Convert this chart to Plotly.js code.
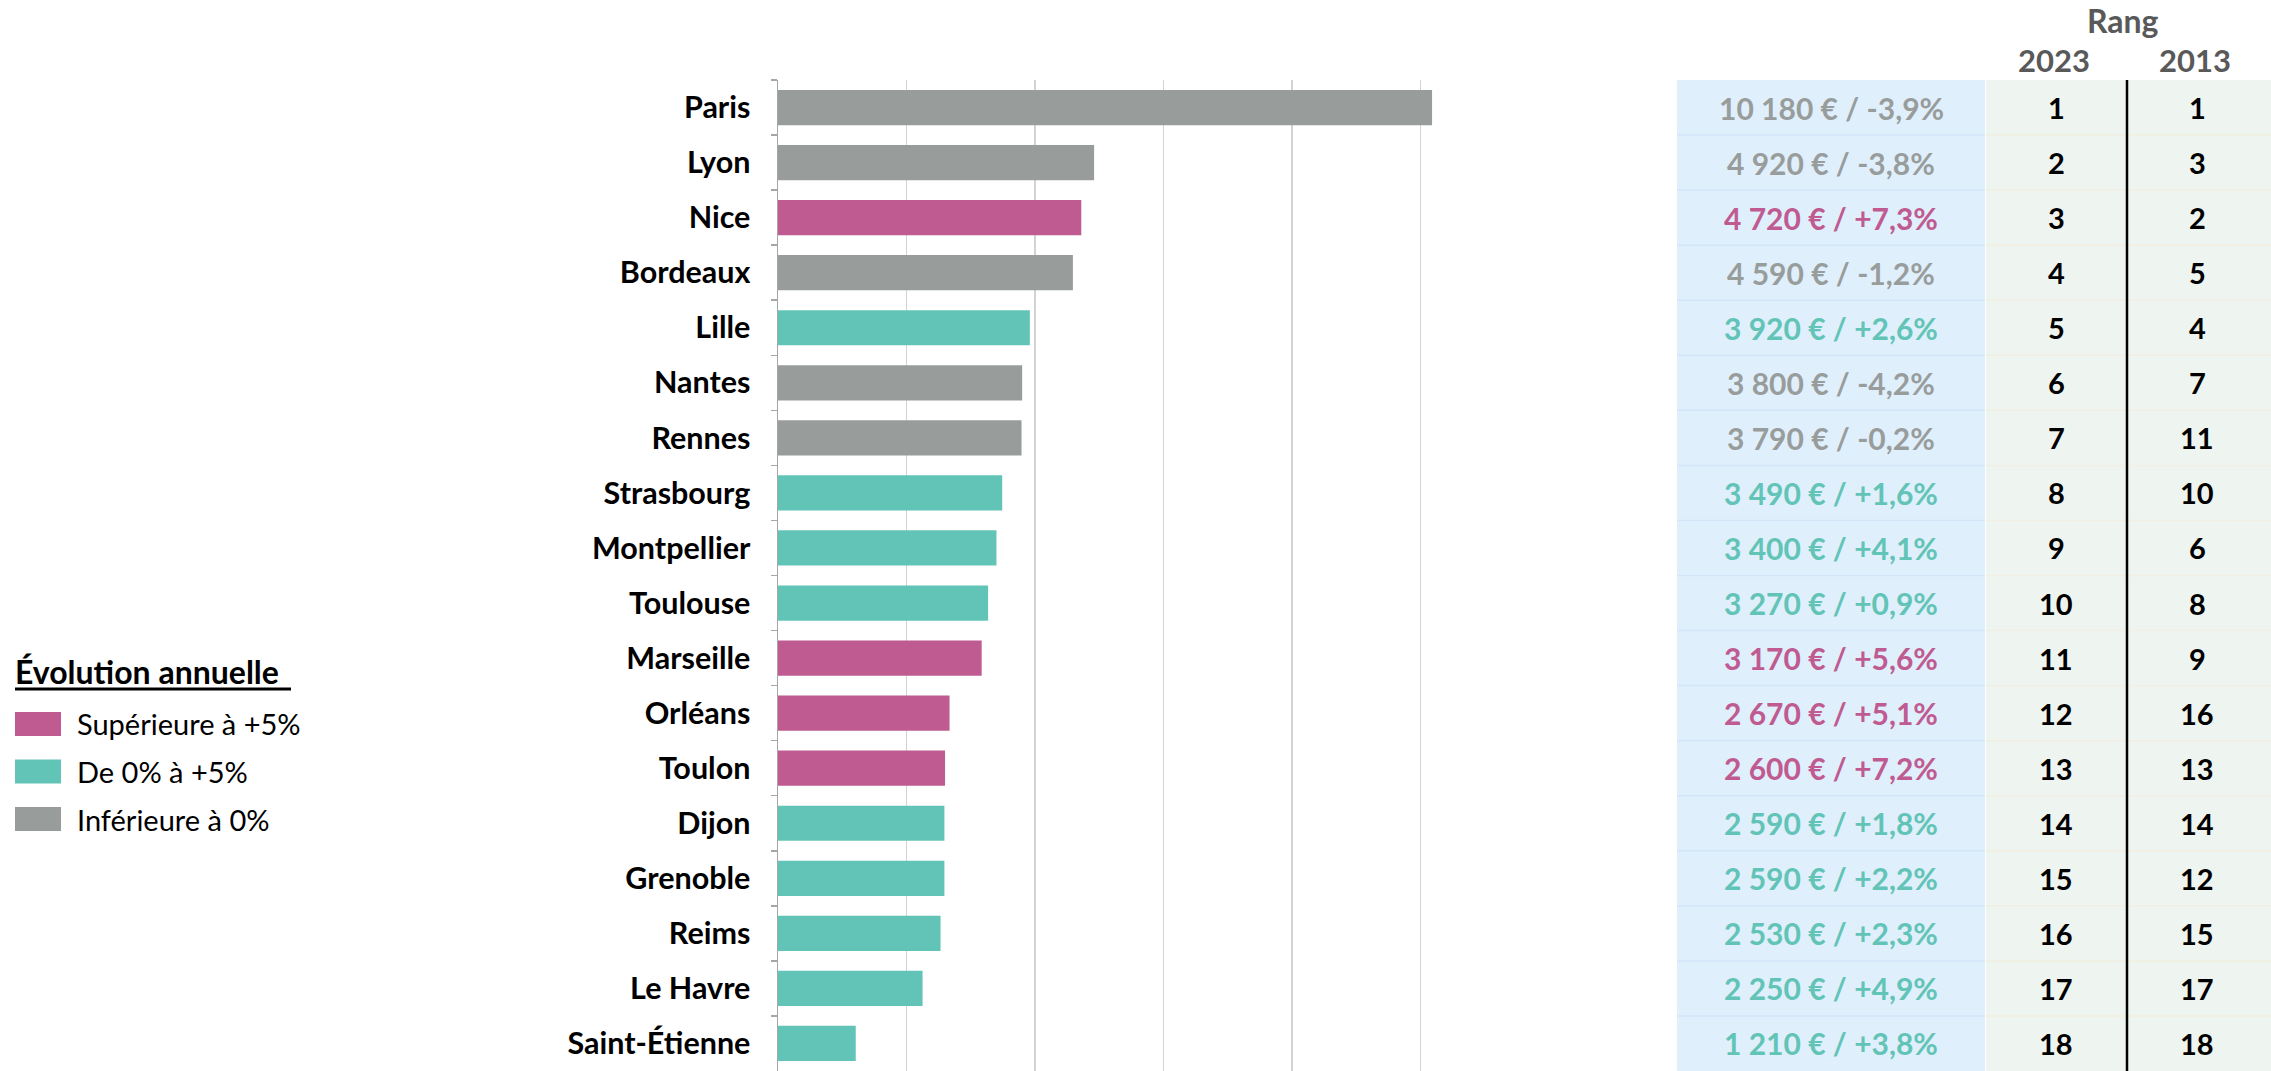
<!DOCTYPE html>
<html><head><meta charset="utf-8">
<script src="https://cdn.plot.ly/plotly-3.0.1.min.js"></script>
<style>html,body{margin:0;padding:0;background:#fff}#chart{width:2271px;height:1071px}</style>
</head><body><div id="chart"></div>
<script>
const cities = ["Paris","Lyon","Nice","Bordeaux","Lille","Nantes","Rennes","Strasbourg","Montpellier","Toulouse","Marseille","Orléans","Toulon","Dijon","Grenoble","Reims","Le Havre","Saint-Étienne"];
const prices = [10180,4920,4720,4590,3920,3800,3790,3490,3400,3270,3170,2670,2600,2590,2590,2530,2250,1210];
const changes = [-3.9,-3.8,7.3,-1.2,2.6,-4.2,-0.2,1.6,4.1,0.9,5.6,5.1,7.2,1.8,2.2,2.3,4.9,3.8];
const rank2023 = [1,2,3,4,5,6,7,8,9,10,11,12,13,14,15,16,17,18];
const rank2013 = [1,3,2,5,4,7,11,10,6,8,9,16,13,14,12,15,17,18];
const legendTitle = "Évolution annuelle";
const legendLabels = ["Supérieure à +5%","De 0% à +5%","Inférieure à 0%"];
const rankHeader = "Rang";
const yearHeaders = ["2023","2013"];

const PINK = "#bf5b91", TEAL = "#62c4b6", GRAY = "#989d9c";
const legendColors = [PINK, TEAL, GRAY];
function colorFor(c){ return c > 5 ? PINK : (c >= 0 ? TEAL : GRAY); }
function fmtPrice(v){ return String(v).replace(/\B(?=(\d{3})+(?!\d))/g, " ") + " €"; }
function fmtChange(c){ return (c >= 0 ? "+" : "-") + Math.abs(c).toFixed(1).replace(".", ",") + "%"; }

const W = 2271, H = 1071, T = 80;
const px = x => x / W;
const py = y => (H - y) / (H - T);
const FONT = "Lato, 'Open Sans', sans-serif";

const barColors = changes.map(colorFor);

const trace = {
  type: "bar", orientation: "h",
  y: cities, x: prices,
  marker: {color: barColors},
  width: 0.64, hoverinfo: "skip", showlegend: false
};

const shapes = [];
const annotations = [];
// table backgrounds
shapes.push({type:"rect", xref:"paper", yref:"paper", x0:px(1677), x1:px(1985), y0:0, y1:1, fillcolor:"#e0effc", line:{width:0}, layer:"below"});
shapes.push({type:"rect", xref:"paper", yref:"paper", x0:px(1986), x1:1, y0:0, y1:1, fillcolor:"#eef4f0", line:{width:0}, layer:"below"});
// row separators
for (let i = 0; i < cities.length - 1; i++) {
  shapes.push({type:"line", xref:"paper", yref:"y", x0:px(1677), x1:px(1985), y0:i+0.5, y1:i+0.5, line:{color:"#d3e6f8", width:1.5}});
  shapes.push({type:"line", xref:"paper", yref:"y", x0:px(1986), x1:1, y0:i+0.5, y1:i+0.5, line:{color:"#f2efe2", width:1.5}});
}
// vertical black divider
shapes.push({type:"line", xref:"paper", yref:"paper", x0:px(2127), x1:px(2127), y0:0, y1:1, line:{color:"#000", width:2.5}});

// table texts
cities.forEach((c, i) => {
  annotations.push({xref:"paper", yref:"y", x:px(1831), y:c, text:fmtPrice(prices[i]) + " / " + fmtChange(changes[i]),
    showarrow:false, xanchor:"center", yanchor:"middle", font:{family:FONT, size:30, weight:700, color:barColors[i]}});
  annotations.push({xref:"paper", yref:"y", x:px(2056), y:c, text:String(rank2023[i]),
    showarrow:false, xanchor:"center", yanchor:"middle", font:{family:FONT, size:29, weight:700, color:"#000"}});
  annotations.push({xref:"paper", yref:"y", x:px(2197), y:c, text:String(rank2013[i]),
    showarrow:false, xanchor:"center", yanchor:"middle", font:{family:FONT, size:29, weight:700, color:"#000"}});
});
// headers
annotations.push({xref:"paper", yref:"paper", x:px(2123), y:py(20), text:rankHeader, showarrow:false, xanchor:"center", yanchor:"middle", font:{family:FONT, size:32, weight:700, color:"#595959"}});
annotations.push({xref:"paper", yref:"paper", x:px(2054), y:py(60), text:yearHeaders[0], showarrow:false, xanchor:"center", yanchor:"middle", font:{family:FONT, size:31, weight:700, color:"#595959"}});
annotations.push({xref:"paper", yref:"paper", x:px(2195), y:py(60), text:yearHeaders[1], showarrow:false, xanchor:"center", yanchor:"middle", font:{family:FONT, size:31, weight:700, color:"#595959"}});

// legend
annotations.push({xref:"paper", yref:"paper", x:px(13), y:py(671), text:legendTitle, showarrow:false, xanchor:"left", yanchor:"middle", font:{family:FONT, size:32, weight:700, color:"#000"}});
shapes.push({type:"line", xref:"paper", yref:"paper", x0:px(15), x1:px(291), y0:py(689), y1:py(689), line:{color:"#000", width:3}});
legendLabels.forEach((l, i) => {
  const yc = 724 + i * 47.5;
  shapes.push({type:"rect", xref:"paper", yref:"paper", x0:px(15), x1:px(61), y0:py(yc-12), y1:py(yc+12), fillcolor:legendColors[i], line:{width:0}});
  annotations.push({xref:"paper", yref:"paper", x:px(75), y:py(yc), text:l, showarrow:false, xanchor:"left", yanchor:"middle", font:{family:FONT, size:29, color:"#000"}});
});

const layout = {
  width: W, height: H,
  margin: {l:0, r:0, t:T, b:0, pad:0},
  paper_bgcolor: "#fff", plot_bgcolor: "rgba(0,0,0,0)",
  showlegend: false,
  xaxis: {domain:[px(778), px(1549)], range:[0, 12000], dtick:2000, showgrid:true, gridcolor:"#d3d3d3", gridwidth:1.5,
    showticklabels:false, zeroline:false, showline:false, ticks:"", fixedrange:true},
  yaxis: {type:"category", autorange:"reversed", showline:true, linecolor:"#a6a6a6", linewidth:1.5,
    ticks:"outside", tickson:"boundaries", ticklen:6, tickcolor:"#a6a6a6", tickwidth:1.5,
    tickfont:{family:FONT, size:30.5, weight:700, color:"#000"}, automargin:false, showgrid:false, ticklabelstandoff:20},
  shapes, annotations
};
Plotly.newPlot("chart", [trace], layout, {displayModeBar:false, staticPlot:true});
</script></body></html>
